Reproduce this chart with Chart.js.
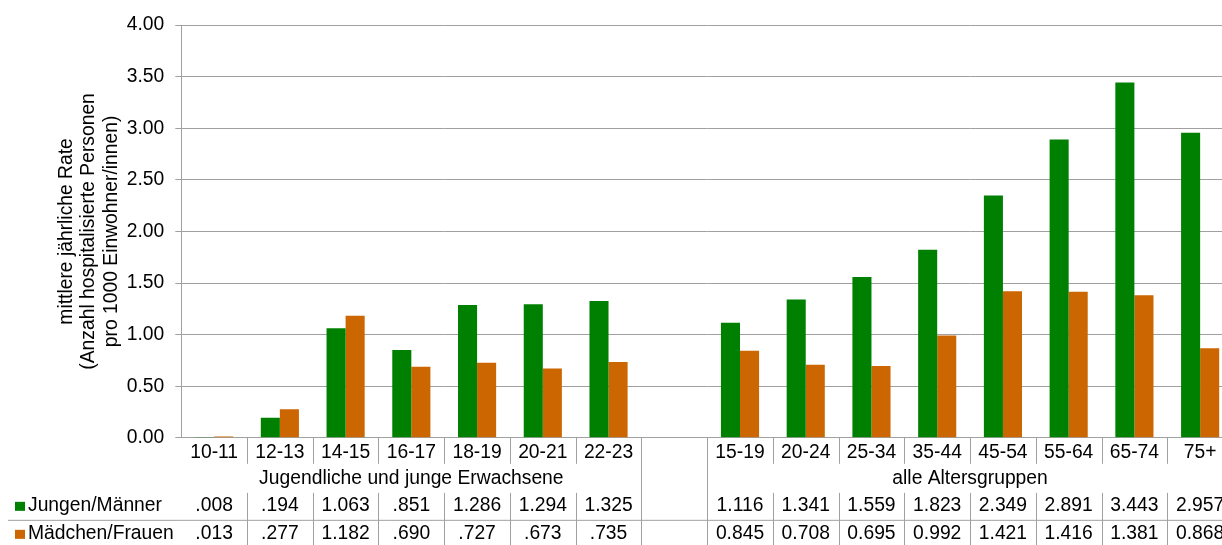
<!DOCTYPE html>
<html>
<head>
<meta charset="utf-8">
<script src="https://cdn.jsdelivr.net/npm/chart.js@4.4.0/dist/chart.umd.min.js"></script>
<style>
  html, body { margin: 0; padding: 0; background: #fff; }
  #wrap { width: 1222px; height: 545px; overflow: hidden; position: relative; }
  #inner { width: 1240px; height: 545px; position: absolute; left: 0; top: 0; }
</style>
</head>
<body>
<div id="wrap"><div id="inner"><canvas id="rateChart"></canvas></div></div>
<script>
// Kategorien (leerer Eintrag = Lücke zwischen den beiden Gruppen)
const categories = ['10-11', '12-13', '14-15', '16-17', '18-19', '20-21', '22-23', '',
    '15-19', '20-24', '25-34', '35-44', '45-54', '55-64', '65-74', '75+'];

const groups = [
    { label: 'Jugendliche und junge Erwachsene', from: 0, to: 6 },
    { label: 'alle Altersgruppen', from: 8, to: 15 }
];

const menValues = [0.008, 0.194, 1.063, 0.851, 1.286, 1.294, 1.325, null,
    1.116, 1.341, 1.559, 1.823, 2.349, 2.891, 3.443, 2.957];
const womenValues = [0.013, 0.277, 1.182, 0.690, 0.727, 0.673, 0.735, null,
    0.845, 0.708, 0.695, 0.992, 1.421, 1.416, 1.381, 0.868];

// Werte wie in der Datentabelle angezeigt
const menTable = ['.008', '.194', '1.063', '.851', '1.286', '1.294', '1.325', '',
    '1.116', '1.341', '1.559', '1.823', '2.349', '2.891', '3.443', '2.957'];
const womenTable = ['.013', '.277', '1.182', '.690', '.727', '.673', '.735', '',
    '0.845', '0.708', '0.695', '0.992', '1.421', '1.416', '1.381', '0.868'];

const yTicks = [0, 0.5, 1, 1.5, 2, 2.5, 3, 3.5, 4];

const FONT = '"Liberation Sans", Arial, sans-serif';
const SIZE = 19.3;
const GREEN = '#008000';
const ORANGE = '#cc6600';
const LINE = '#a0a0a0';

// Datentabelle unter der x-Achse
const dataTable = {
    id: 'dataTable',
    afterDraw(chart) {
        const ctx = chart.ctx;
        const x = chart.scales.x;
        const area = chart.chartArea;
        const bottom = chart.height;
        const labelRowEnd = area.bottom + 26;
        const seriesTop = area.bottom + 55;
        const row1 = area.bottom + 68;
        const row2 = area.bottom + 96;
        const divider = area.bottom + 82;
        const step = x.getPixelForValue(1) - x.getPixelForValue(0);

        ctx.save();
        ctx.strokeStyle = LINE;
        ctx.lineWidth = 1;

        // vertikale Trennlinien
        for (let i = 0; i < categories.length - 1; i++) {
            const bx = Math.round(x.getPixelForValue(i) + step / 2) + 0.5;
            const nearGap = categories[i] === '' || categories[i + 1] === '';
            ctx.beginPath();
            if (nearGap) {
                ctx.moveTo(bx, area.bottom);
                ctx.lineTo(bx, bottom);
            } else {
                ctx.moveTo(bx, area.bottom);
                ctx.lineTo(bx, labelRowEnd);
                ctx.moveTo(bx, seriesTop);
                ctx.lineTo(bx, bottom);
            }
            ctx.stroke();
        }

        // horizontale Linie zwischen den Zeilen
        ctx.beginPath();
        ctx.moveTo(8, divider + 0.5);
        ctx.lineTo(chart.width, divider + 0.5);
        ctx.stroke();

        ctx.fillStyle = '#000';
        ctx.font = SIZE + 'px ' + FONT;
        ctx.textAlign = 'center';
        ctx.textBaseline = 'middle';

        // Gruppenbeschriftung
        groups.forEach(g => {
            const cx = (x.getPixelForValue(g.from) + x.getPixelForValue(g.to)) / 2;
            ctx.fillText(g.label, cx, area.bottom + 41);
        });

        // Werte
        chart.data.datasets.forEach((ds, d) => {
            const texts = d === 0 ? menTable : womenTable;
            const y = d === 0 ? row1 : row2;
            ctx.fillStyle = '#000';
            ctx.textAlign = 'center';
            texts.forEach((t, i) => {
                if (t) ctx.fillText(t, x.getPixelForValue(i), y);
            });
            // Legendensymbol und Name
            ctx.fillStyle = ds.backgroundColor;
            ctx.fillRect(15, y - 4, 10, 9);
            ctx.fillStyle = '#000';
            ctx.textAlign = 'left';
            ctx.fillText(ds.label, 28, y);
        });
        ctx.restore();
    }
};

document.addEventListener('DOMContentLoaded', function() {
    const ctx = document.getElementById('rateChart').getContext('2d');
    new Chart(ctx, {
        type: 'bar',
        data: {
            labels: categories,
            datasets: [{
                label: 'Jungen/Männer',
                data: menValues,
                backgroundColor: GREEN
            }, {
                label: 'Mädchen/Frauen',
                data: womenValues,
                backgroundColor: ORANGE
            }]
        },
        options: {
            responsive: true,
            maintainAspectRatio: false,
            animation: false,
            layout: {
                padding: { top: 25, right: 7, bottom: 86, left: 55 }
            },
            plugins: {
                legend: { display: false },
                tooltip: { enabled: false }
            },
            datasets: {
                bar: { categoryPercentage: 0.58, barPercentage: 1.0 }
            },
            scales: {
                x: {
                    grid: { display: false },
                    border: { display: true, color: LINE, width: 1 },
                    ticks: {
                        color: '#000',
                        font: { family: FONT, size: SIZE },
                        padding: -5,
                        maxRotation: 0,
                        autoSkip: false
                    }
                },
                y: {
                    min: 0,
                    max: 4,
                    afterBuildTicks: function(scale) {
                        scale.ticks = yTicks.map(v => ({ value: v }));
                    },
                    grid: {
                        color: LINE,
                        lineWidth: 1,
                        tickLength: 6
                    },
                    border: { display: true, color: LINE, width: 1 },
                    ticks: {
                        color: '#000',
                        font: { family: FONT, size: SIZE },
                        padding: 11,
                        callback: function(value) {
                            return value.toFixed(2);
                        }
                    },
                    title: {
                        display: true,
                        text: ['mittlere jährliche Rate', '(Anzahl hospitalisierte Personen', 'pro 1000 Einwohner/innen)'],
                        color: '#000',
                        font: { family: FONT, size: SIZE, lineHeight: 1.17 },
                        padding: { top: 0, bottom: -7 }
                    }
                }
            }
        },
        plugins: [dataTable]
    });
});
</script>
</body>
</html>
